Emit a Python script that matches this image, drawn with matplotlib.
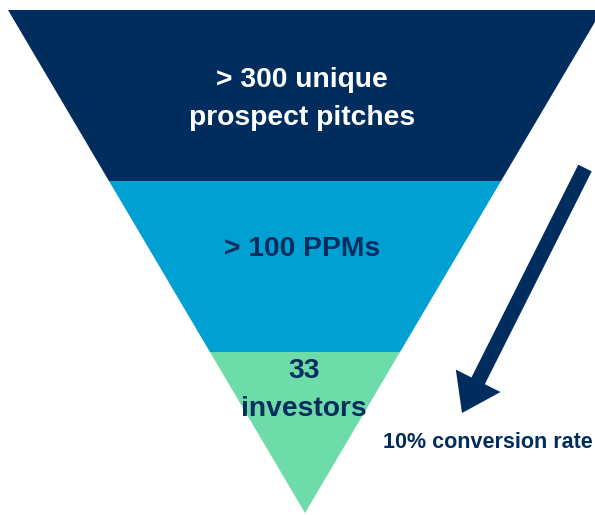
import matplotlib
matplotlib.use("Agg")
import matplotlib.pyplot as plt
from matplotlib.patches import Polygon, FancyArrow

# Funnel stages, top to bottom
stage_labels = ["> 300 unique\nprospect pitches", "> 100 PPMs", "33\ninvestors"]
stage_colors = ["#002D5E", "#00A0D3", "#6EDCA8"]
label_colors = ["#FFFFFF", "#002D5E", "#002D5E"]
conversion_label = "10% conversion rate"

plt.rcParams["font.family"] = ["Liberation Sans", "DejaVu Sans"]

W, H = 595, 515
fig = plt.figure(figsize=(W / 100, H / 100), dpi=100)
ax = fig.add_axes([0, 0, 1, 1])
ax.set_xlim(0, W)
ax.set_ylim(H, 0)
ax.axis("off")

# Triangle geometry (pixel space)
top_y, apex_y = 10, 513
left_x, apex_x = 8, 305
band_edges = [top_y, 181, 352, apex_y]


def half_width(y):
    return (apex_x - left_x) * (apex_y - y) / (apex_y - top_y)


for i, col in enumerate(stage_colors):
    y0, y1 = band_edges[i], band_edges[i + 1]
    w0, w1 = half_width(y0), half_width(y1)
    pts = [(apex_x - w0, y0), (apex_x + w0, y0), (apex_x + w1, y1), (apex_x - w1, y1)]
    ax.add_patch(Polygon(pts, closed=True, facecolor=col, edgecolor="none"))

label_pos = [(302, 99), (302, 249), (304, 390)]
for lab, (x, y), c in zip(stage_labels, label_pos, label_colors):
    ax.text(x, y, lab, ha="center", va="center", color=c, fontsize=20.3,
            fontweight="bold", linespacing=1.6)

# Conversion arrow
x0, y0 = 585, 168
x1, y1 = 462, 413
ax.add_patch(FancyArrow(x0, y0, x1 - x0, y1 - y0, width=15, head_width=50,
                        head_length=36, length_includes_head=True,
                        facecolor="#002D5E", edgecolor="none"))

ax.text(488, 443, conversion_label, ha="center", va="center", color="#002D5E",
        fontsize=15.5, fontweight="bold")

fig.savefig("out.png", dpi=100)
